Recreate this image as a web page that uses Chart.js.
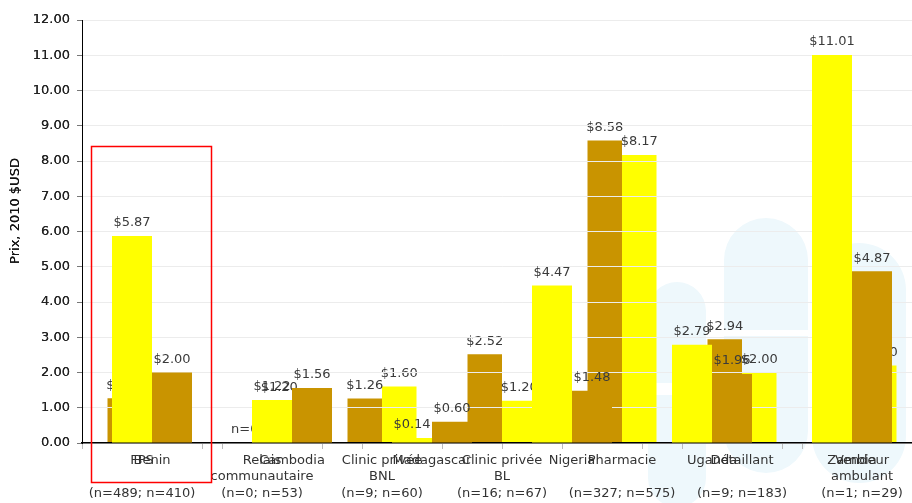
<!DOCTYPE html>
<html>
<head>
<meta charset="utf-8">
<script src="https://cdn.jsdelivr.net/npm/chart.js@4"></script>
<style>
  html, body { margin: 0; padding: 0; background: #fff; overflow: hidden; }
  #wrap { position: relative; width: 930px; height: 503px; }
  #wrap canvas { position: absolute; left: 0; top: 0; }
</style>
</head>
<body>
<div id="wrap">
  <canvas id="outletChart" width="930" height="503"></canvas>
  <canvas id="countryChart" width="930" height="503"></canvas>
</div>
<script>
// Type de point de vente (premier graphique, dessous)
const outletLabels = [
  ["FPS", "", "(n=489; n=410)"],
  ["Relais", "communautaire", "(n=0; n=53)"],
  ["Clinic privée", "BNL", "(n=9; n=60)"],
  ["Clinic privée", "BL", "(n=16; n=67)"],
  ["Pharmacie", "", "(n=327; n=575)"],
  ["Détaillant", "", "(n=9; n=183)"],
  ["Vendeur", "ambulant", "(n=1; n=29)"]
];
const outletGold = [1.27, 0, 1.26, 2.52, 8.58, 2.94, 3.80];
const outletYellow = [1.40, 1.20, 1.60, 1.20, 8.17, 2.00, 2.20];

// Pays (second graphique, dessus)
const countryLabels = ["Benin", "Cambodia", "Madagascar", "Nigeria", "Uganda", "Zambia"];
const countryYellow = [5.87, 1.22, 0.14, 4.47, 2.79, 11.01];
const countryGold = [2.00, 1.56, 0.60, 1.48, 1.96, 4.87];

const yMin = 0, yMax = 12, yStep = 1;
const yTitle = "Prix, 2010 $USD";

const GOLD = "#C99400";
const YELLOW = "#FFFF00";

Chart.defaults.font.family = '"DejaVu Sans", Verdana, sans-serif';
Chart.defaults.font.size = 13;

const valueLabels = {
  id: "valueLabels",
  afterDatasetsDraw(chart) {
    const ctx = chart.ctx;
    ctx.save();
    ctx.font = '13px "DejaVu Sans"';
    ctx.fillStyle = "#3a3a3a";
    ctx.textAlign = "center";
    ctx.textBaseline = "middle";
    chart.data.datasets.forEach((ds, i) => {
      chart.getDatasetMeta(i).data.forEach((bar, j) => {
        const v = ds.data[j];
        if (v == null) return;
        const txt = v === 0 ? "n=0" : "$" + v.toFixed(2);
        ctx.fillText(txt, bar.x, bar.y - 13);
      });
    });
    ctx.restore();
  }
};

const axisTitle = {
  id: "axisTitle",
  afterDraw(chart) {
    const ctx = chart.ctx;
    ctx.save();
    ctx.translate(16, 211);
    ctx.rotate(-Math.PI / 2);
    ctx.font = '13px "DejaVu Sans"';
    ctx.fillStyle = "#111";
    ctx.textAlign = "center";
    ctx.textBaseline = "middle";
    ctx.fillText(yTitle, 0, 0);
    ctx.restore();
  }
};

// logo pâle en fond
const watermark = {
  id: "watermark",
  beforeDraw(chart) {
    const ctx = chart.ctx;
    ctx.save();
    ctx.fillStyle = "#EEF8FC";
    ctx.beginPath();
    ctx.roundRect(648, 282, 58, 225, [29, 29, 29, 29]);
    ctx.roundRect(724, 218, 84, 255, [42, 42, 42, 42]);
    ctx.roundRect(812, 243, 94, 240, [47, 47, 47, 47]);
    ctx.fill();
    ctx.fillStyle = "#fff";
    ctx.fillRect(722, 330, 88, 6);
    ctx.fillRect(655, 383, 52, 12);
    ctx.restore();
  }
};

const highlight = {
  id: "highlight",
  afterDraw(chart) {
    const ctx = chart.ctx;
    ctx.save();
    ctx.strokeStyle = "#FF0000";
    ctx.lineWidth = 1.5;
    ctx.strokeRect(91.5, 146.5, 120, 336);
    ctx.restore();
  }
};

function makeOptions() {
  return {
    responsive: false,
    animation: false,
    layout: { padding: { top: 20, right: 8, left: 0, bottom: 0 } },
    plugins: { legend: { display: false }, tooltip: { enabled: false } },
    scales: {
      x: {
        grid: { drawOnChartArea: false, tickLength: 6, tickColor: "#bbb" },
        border: { color: "#000", width: 1.5 },
        ticks: { color: "#333", font: { size: 13, lineHeight: 1.27 }, padding: 3, maxRotation: 0, autoSkip: false },
        afterFit(s) { s.height = 60; }
      },
      y: {
        min: yMin,
        max: yMax,
        ticks: { stepSize: yStep, color: "#222", padding: 7, callback: v => v.toFixed(2) },
        grid: { color: "#ececec", tickLength: 5, tickColor: "#777" },
        border: { color: "#000", width: 1 },
        afterFit(s) { s.width = 82; }
      }
    }
  };
}

const outletChart = new Chart(document.getElementById("outletChart").getContext("2d"), {
  type: "bar",
  data: {
    labels: outletLabels,
    datasets: [
      { data: outletGold, backgroundColor: GOLD, borderWidth: 0, categoryPercentage: 0.575, barPercentage: 1 },
      { data: outletYellow, backgroundColor: YELLOW, borderWidth: 0, categoryPercentage: 0.575, barPercentage: 1 }
    ]
  },
  options: makeOptions(),
  plugins: [watermark, valueLabels, axisTitle]
});

const countryChart = new Chart(document.getElementById("countryChart").getContext("2d"), {
  type: "bar",
  data: {
    labels: countryLabels,
    datasets: [
      { data: countryYellow, backgroundColor: YELLOW, borderWidth: 0, categoryPercentage: 0.5714, barPercentage: 1 },
      { data: countryGold, backgroundColor: GOLD, borderWidth: 0, categoryPercentage: 0.5714, barPercentage: 1 }
    ]
  },
  options: makeOptions(),
  plugins: [valueLabels, axisTitle, highlight]
});
</script>
</body>
</html>
